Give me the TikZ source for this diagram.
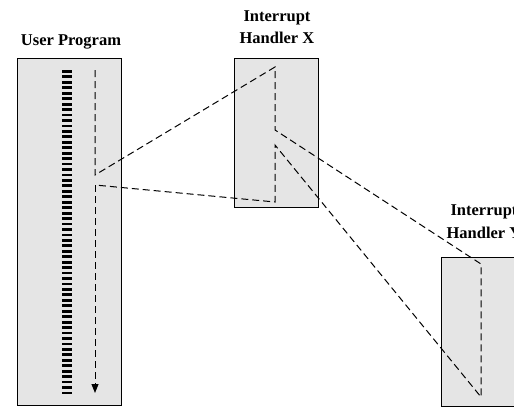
\documentclass[tikz,border=0pt]{standalone}
\usepackage{fontspec}
\setmainfont{Liberation Serif}
\usepackage{tikz}
\usetikzlibrary{arrows.meta}

\begin{document}
\begin{tikzpicture}[x=1pt, y=-1pt,
    box/.style={draw=black, line width=1pt, fill=black!10, inner sep=0pt, anchor=north west},
    title/.style={align=center, font=\fontsize{16.5}{22}\selectfont\bfseries, inner sep=0pt, anchor=base},
    flow/.style={line width=1pt, black, dash pattern=on 7pt off 4pt}]
        \useasboundingbox (0,0) rectangle (514,407);

        % 1. User Program (Left)
        \node[box, minimum width=104pt, minimum height=347pt] (user) at (17,58) {};
        \node[title] (userlbl) at (71,45) {User Program};
        \foreach \i in {0,...,59}
            \fill[black] (62,{70+\i*5.45}) rectangle +(10,2.8);

        % 2. Interrupt Handler X (Middle)
        \node[box, minimum width=84pt, minimum height=149pt] (hx) at (234,58) {};
        \node[title] (hxlbl) at (277,43) {Interrupt\\Handler X};

        % 3. Interrupt Handler Y (Right, cut off by the page)
        \node[box, minimum width=84pt, minimum height=149pt] (hy) at (441,257) {};
        \node[title] (hylbl) at (484,238) {Interrupt\\[1pt]Handler Y};

        % Points of the flow of control
        \coordinate (u1) at (95,70);
        \coordinate (u2) at (95,175);
        \coordinate (u3) at (95,185);
        \coordinate (u4) at (95,393);
        \coordinate (x1) at (275,67);
        \coordinate (x2) at (275,130);
        \coordinate (x3) at (275,145);
        \coordinate (x4) at (275,202);
        \coordinate (y1) at (481,264);
        \coordinate (y2) at (481,397);

        % The flow
        \draw[flow] (u1) -- (u2) -- (x1) -- (x2) -- (y1) -- (y2) -- (x3) -- (x4) -- (u3);
        \draw[flow, -{Triangle[width=7pt, length=9pt]}] (u3) -- (u4);

    \end{tikzpicture}
\end{document}
